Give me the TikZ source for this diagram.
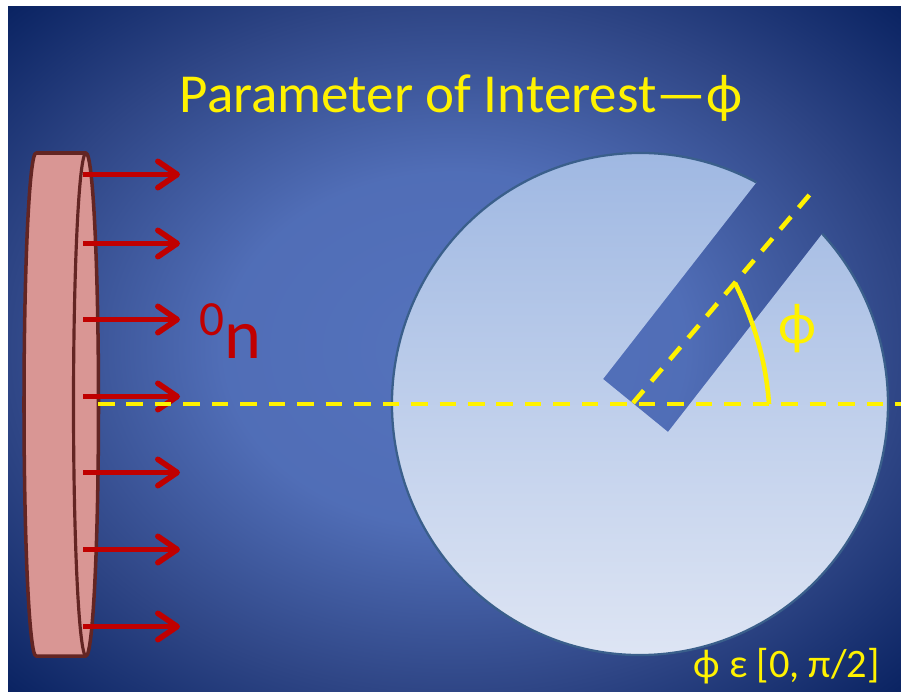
\documentclass[tikz,border=0pt]{standalone}
\usepackage{xcolor}
\usepackage{fontspec}
\setmainfont{Carlito}
\usetikzlibrary{positioning, arrows.meta}

\definecolor{bgmid}{HTML}{5472BC}
\definecolor{bgedge}{HTML}{2F4686}
\definecolor{bgcorner}{HTML}{0A2362}
\definecolor{disctop}{HTML}{9BB5E1}
\definecolor{discbot}{HTML}{E2E8F5}
\definecolor{discline}{HTML}{3A5F8B}
\definecolor{platefill}{HTML}{D99694}
\definecolor{plateline}{HTML}{632523}
\definecolor{beamred}{HTML}{C00000}
\pgfdeclareradialshading{slidebg}{\pgfpoint{0bp}{0bp}}{
    color(0bp)=(bgmid); color(13bp)=(bgmid!90!bgedge);
    color(25bp)=(bgedge); color(35.4bp)=(bgcorner); color(50bp)=(bgcorner)}

\begin{document}
\begin{tikzpicture}[
    x=0.02cm, y=0.02cm,
    ylbl/.style={text=yellow, inner sep=0pt},
    beam/.style={-{Straight Barb[length=11pt, width=15pt, line width=3.2pt, round]}, line width=3pt, beamred},
    ydash/.style={yellow, line width=2.6pt, dash pattern=on 9.4pt off 6.8pt},
    plate/.style={draw=plateline, line width=2pt, fill=platefill, line join=round},
]
\useasboundingbox (0,0) rectangle (901,691);

% --- Background ---
\fill[white] (0,0) rectangle (901,691);
\shade[shading=slidebg] (8,0) rectangle (901,684);

% --- Disc with slot ---
\coordinate (disc) at (640,287);
\coordinate (slotB) at (668,259);
\coordinate (slotC) at (603,312);
\path[top color=disctop, bottom color=discbot]
    (disc) ++(62:248 and 251) arc[start angle=62, end angle=402.7, x radius=248, y radius=251]
    -- (slotB) -- (slotC) -- cycle;
\draw[discline, line width=1.3pt]
    (disc) ++(62:248 and 251) arc[start angle=62, end angle=402.7, x radius=248, y radius=251];

% --- Source plate ---
\draw[plate] (36,538) -- (86,538) arc[start angle=90, end angle=-90, x radius=12.5, y radius=251.5]
    -- (36,35) arc[start angle=270, end angle=90, x radius=12, y radius=251.5] -- cycle;
\draw[plateline, line width=1.8pt] (86,538) arc[start angle=90, end angle=270, x radius=12.5, y radius=251.5];

% --- Beam arrows ---
\foreach \i/\ypos in {1/516.5, 2/447.5, 3/371.5, 4/294.5, 5/218.5, 6/141.5, 7/64.5} {
    \coordinate (b\i) at (83,\ypos);
    \coordinate (t\i) at (180,\ypos);
    \draw[beam] (b\i) -- (t\i);
}

% --- Axes ---
\coordinate (axisL) at (98,287);
\coordinate (axisR) at (901,287);
\coordinate (axisO) at (633,288);
\coordinate (axisT) at (811,498);
\draw[ydash] (axisL) -- (axisR);
\draw[ydash] (axisO) -- (axisT);

% --- Angle arc ---
\coordinate (arcA) at (769,287);
\coordinate (arcB) at (735,408);
\draw[yellow, line width=2.6pt, line join=miter] (arcA) .. controls (766,331) and (753,372) .. (arcB);

% --- Labels ---
\node[ylbl, font=\fontsize{31.3}{34}\selectfont] (title) at (461,593) {Parameter of Interest—ϕ};
\node[ylbl, font=\fontsize{33}{35}\selectfont] (philbl) at (797,362) {ϕ};
\node[ylbl, font=\fontsize{23}{26}\selectfont, anchor=east] (range) at (880,25) {ϕ ε [0, π/2]};
\node[text=beamred, inner sep=0pt, font=\fontsize{40}{42}\selectfont] (neutron) at (230,360)
    {\raisebox{13pt}{\fontsize{28}{30}\selectfont 0}n};

\end{tikzpicture}
\end{document}
